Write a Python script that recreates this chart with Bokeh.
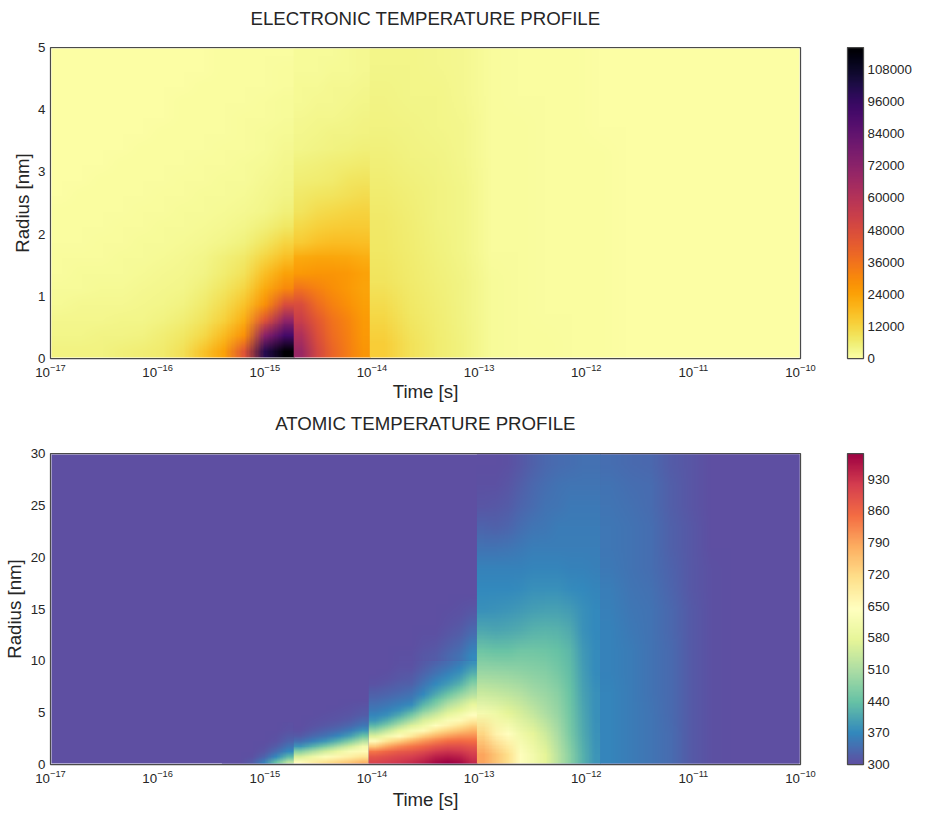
import base64
import struct
import zlib
import numpy as np
from bokeh.embed import file_html
from bokeh.resources import INLINE
from bokeh.plotting import figure
from bokeh.layouts import column
from bokeh.models import LinearColorMapper, ColorBar, FixedTicker, Label, BasicTickFormatter, LogAxis
from bokeh.palettes import Inferno256

# Electron temperature, kK. Rows run up the radius, columns along log10(time).
TE_A = [  # 1e-17 .. 10^-14.73
 [4.5,4.5,4.5,5,5.5,6.5,9.5,16,24,45,100,116],
 [3.5,3.5,3.8,4,4.5,5.5,7.5,11,18,28,72,92],
 [2.8,2.8,3,3.2,3.6,4.4,5.8,8.5,13,21,45,70],
 [2.2,2.3,2.5,2.7,3,3.5,4.5,6.5,10,16,28,48],
 [1.7,1.8,2,2.2,2.5,3,3.6,5,8,12,22,30],
 [1.3,1.4,1.6,1.8,2.1,2.5,3,4,6,9,17,24],
 [1,1.1,1.3,1.5,1.7,2.1,2.5,3.3,5,7,12,17],
 [.8,.9,1,1.2,1.4,1.7,2.1,2.5,3.5,4.8,8,12],
 [.6,.7,.8,1,1.2,1.4,1.7,2.1,2.6,3.3,5,7.5],
 [.5,.6,.7,.8,1,1.2,1.4,1.8,2.2,2.6,3.4,5],
 [.4,.5,.6,.7,.8,1,1.2,1.5,1.8,2.2,2.8,4],
 [.4,.4,.5,.6,.7,.8,1,1.2,1.5,1.8,2.3,3.3],
 [.3,.4,.4,.5,.6,.7,.8,1,1.3,1.5,2,2.8],
 [.3,.3,.4,.4,.5,.6,.7,.9,1.1,1.3,1.7,2.3],
 [.3,.3,.3,.4,.4,.5,.6,.8,.9,1.1,1.4,1.9],
 [.2,.3,.3,.3,.4,.4,.5,.7,.8,1,1.2,1.6],
 [.2,.2,.3,.3,.3,.4,.5,.6,.7,.8,1,1.4],
 [.2,.2,.2,.3,.3,.3,.4,.5,.6,.7,.9,1.2],
 [.2,.2,.2,.2,.3,.3,.4,.4,.5,.6,.8,1],
 [.2,.2,.2,.2,.2,.3,.3,.4,.5,.5,.7,.9],
]
TE_B = [  # 10^-14.73 .. 10^-14.02
 [68,50,40,33,27],
 [62,47,38,32,26],
 [54,44,36,31,25.5],
 [48,38,32,28,24.5],
 [36,32,29,26,23.5],
 [26,27,27,26,24],
 [22,23,23,22.5,21],
 [14.5,16.5,17.5,17.5,17],
 [11,13,14,14.5,14.5],
 [8.5,10,11,12,12.5],
 [7,8,8.5,9.5,10],
 [5.5,6.2,6.8,7.8,8.3],
 [4.6,5,5.5,6,6.6],
 [3.6,4,4.3,4.7,5],
 [3,3.4,3.7,4,4.3],
 [2.6,2.9,3.1,3.4,3.7],
 [2.2,2.5,2.7,2.9,3.2],
 [1.9,2.1,2.3,2.5,2.8],
 [1.6,1.8,2,2.2,2.5],
 [1.4,1.6,1.8,2,2.3],
]
TE_C = [  # 10^-14.02 .. 1e-10
 [14,9,6,4.5,1.6,1.2,1,.7,.5,.4,.4,.3,.3,.3,.2,.2],
 [11,7.5,5.5,4,1.4,1.1,.9,.7,.5,.4,.4,.3,.3,.3,.2,.2],
 [8.5,6.5,5,3.8,1.4,1.1,.9,.6,.5,.4,.4,.3,.3,.3,.2,.2],
 [7.5,6,4.8,3.6,1.3,1,.9,.6,.5,.4,.4,.3,.3,.2,.2,.2],
 [7,5.5,4.5,3.4,1.2,1,.8,.6,.5,.4,.4,.3,.3,.2,.2,.2],
 [6,5,4.2,3.2,1.2,1,.8,.6,.5,.4,.4,.3,.3,.2,.2,.2],
 [5,4.5,4,3,1.1,1,.8,.6,.5,.4,.4,.3,.3,.2,.2,.2],
 [4.5,4,3.6,2.8,1.1,1,.7,.6,.4,.4,.3,.3,.2,.2,.2,.2],
 [4,3.6,3.3,2.6,1,.9,.7,.6,.4,.4,.3,.3,.2,.2,.2,.2],
 [3.6,3.3,3,2.5,1,.9,.7,.6,.4,.4,.3,.3,.2,.2,.2,.2],
]

# Atomic temperature, K.
TA_BASE = [[300]]
TA_P1 = [  # 10^-15.4 .. 10^-14.73, 0..4 nm
 [300,302,318,360,440,530],
 [300,300,305,325,370,430],
 [300,300,302,310,335,370],
 [300,300,300,304,318,345],
 [300,300,300,302,308,325],
 [300,300,300,300,304,314],
 [300,300,300,300,302,307],
 [300,300,300,300,300,303],
]
TA_B = [  # 10^-14.73 .. 10^-14.03, 0..6.5 nm
 [650,680,705,725,745,770],
 [560,600,635,660,680,700],
 [470,510,550,590,625,655],
 [385,420,460,505,550,610],
 [340,360,385,420,465,520],
 [315,330,345,365,395,440],
 [305,315,325,335,355,385],
 [302,307,312,320,330,350],
 [300,303,306,310,318,330],
 [300,301,303,306,310,318],
 [300,300,301,303,306,311],
 [300,300,300,301,303,306],
 [300,300,300,300,301,302],
]
TA_C_COLS = [  # one list per time, 10^-14.03 .. 10^-13.02, 0..10 nm
 [905,885,840,745,650,565,490,425,385,365,352,341,331,322,314,308,304,302,301,300],
 [915,895,860,790,700,610,535,465,415,380,362,349,338,328,319,312,307,304,302,300],
 [925,905,875,820,735,650,585,515,460,410,378,360,346,335,326,319,313,309,306,304],
 [935,915,885,840,775,690,620,565,505,455,410,375,356,343,333,324,317,312,308,305],
 [950,930,900,860,805,735,655,600,560,510,465,425,395,372,357,346,336,328,321,316],
 [975,950,920,880,830,770,700,640,590,545,505,468,438,410,388,372,358,345,335,326],
 [985,960,930,895,850,795,730,670,625,585,550,515,480,445,415,392,376,362,350,340],
 [975,950,925,895,855,810,755,700,655,610,575,545,515,485,450,420,398,382,368,355],
 [940,925,905,880,850,815,775,730,685,645,610,585,550,520,495,470,443,418,398,380],
]
TA_C_UP_COLS = [  # same times, 10..18 nm
 [300,300,300,300,300,300,300,300],
 [300,300,300,300,300,300,300,300],
 [303,301,300,300,300,300,300,300],
 [304,302,301,300,300,300,300,300],
 [312,307,304,302,300,300,300,300],
 [317,309,304,302,301,300,300,300],
 [332,320,311,306,303,301,300,300],
 [345,330,320,312,306,303,301,300],
 [372,356,340,325,314,306,302,300],
]
TA_D_COLS = [  # 10^-13.02 .. 10^-11.87, 0..30 nm
 [790,725,615,540,490,445,405,380,370,362,345,325,310,303,300],
 [750,670,600,535,487,442,402,381,371,362,345,322,312,305,302],
 [710,645,575,528,485,442,405,385,372,362,347,327,317,310,305],
 [640,605,555,515,478,448,412,390,374,364,352,338,328,320,313],
 [610,578,535,500,473,448,420,396,378,367,357,346,336,330,322],
 [575,545,512,488,468,445,422,398,380,366,357,350,343,338,330],
 [525,505,487,472,455,438,420,397,378,365,358,354,348,344,335],
 [472,458,450,440,432,424,410,392,375,364,359,356,351,348,340],
 [420,412,405,400,395,390,383,378,370,363,359,356,352,348,342],
 [385,383,380,378,375,374,372,370,367,361,358,355,351,347,342],
]
TA_E_COLS = [  # 10^-11.87 .. 1e-10, 0..30 nm
 [366,366,365,365,364,364,362,360,357,352,350,349,348,345,340],
 [356,356,356,355,355,354,353,350,347,345,344,343,342,340,333],
 [346,346,346,345,345,345,344,343,342,340,339,338,337,335,330],
 [335,335,334,334,333,333,332,331,328,325,323,322,321,320,318],
 [316,316,316,315,315,315,314,314,313,312,311,311,310,310,309],
 [304,304,304,304,304,304,303,303,303,303,302,302,302,302,302],
 [302,302,302,302,302,302,302,302,302,302,302,302,302,302,302],
 [301,301,301,301,301,301,301,301,301,301,301,301,301,301,301],
 [300,300,300,300,300,300,300,300,300,300,300,300,300,300,300],
 [300,300,300,300,300,300,300,300,300,300,300,300,300,300,300],
]

TIME_TICKS = [1e-17, 1e-16, 1e-15, 1e-14, 1e-13, 1e-12, 1e-11, 1e-10]
TE_BAR_TICKS = [0, 12000, 24000, 36000, 48000, 60000, 72000, 84000, 96000, 108000]
TA_BAR_TICKS = [300, 370, 440, 510, 580, 650, 720, 790, 860, 930]
TE_MAX = 116200
TA_MAX = 987

FONT = "Liberation Sans"
INK = "#262626"
EDGE = "#4a4a4a"

SPECTRAL_STOPS = ['#5e4fa2', '#3288bd', '#66c2a5', '#abdda4', '#e6f598', '#ffffbf',
                  '#fee08b', '#fdae61', '#f46d43', '#d53e4f', '#9e0142']


def spectral_256():
    rgb = np.array([[int(c[i:i + 2], 16) for i in (1, 3, 5)] for c in SPECTRAL_STOPS], float)
    pos = np.linspace(0, 1, len(rgb))
    t = np.linspace(0, 1, 256)
    out = np.stack([np.interp(t, pos, rgb[:, k]) for k in range(3)], axis=1).round().astype(int)
    return ["#%02x%02x%02x" % tuple(v) for v in out]


def cells_to_png_uri(rows, palette, low, high):
    """Colour the typed cells one pixel each; the browser does the upscaling."""
    a = np.asarray(rows, dtype=float)[::-1]
    idx = np.clip(((a - low) / (high - low) * 256).astype(int), 0, 255)
    lut = np.array([[int(c[i:i + 2], 16) for i in (1, 3, 5)] for c in palette], dtype=np.uint8)
    rgb = lut[idx]
    h, w = a.shape
    raw = b"".join(b"\x00" + rgb[y].tobytes() for y in range(h))

    def chunk(tag, data):
        return struct.pack(">I", len(data)) + tag + data + struct.pack(">I", zlib.crc32(tag + data))

    png = (b"\x89PNG\r\n\x1a\n" + chunk(b"IHDR", struct.pack(">IIBBBBB", w, h, 8, 2, 0, 0, 0))
           + chunk(b"IDAT", zlib.compress(raw)) + chunk(b"IEND", b""))
    return "data:image/png;base64," + base64.b64encode(png).decode()


def panel(title, title_standoff, ymax, yticks, mapper, patches, bar_ticks, ylabel_standoff, xlabel_standoff):
    p = figure(x_axis_type="log", x_range=(1e-17, 1e-10), y_range=(0, ymax),
               frame_width=750, frame_height=311, width=944, height=406,
               min_border_left=50, min_border_right=144, min_border_top=47, min_border_bottom=48,
               output_backend="svg", toolbar_location=None)
    p.grid.visible = False
    p.outline_line_color = EDGE
    p.outline_line_width = 1.25
    for (lg0, lg1, r0, r1, rows) in patches:
        x0, x1 = 10.0 ** lg0, 10.0 ** lg1
        uri = cells_to_png_uri(rows, mapper.palette, mapper.low, mapper.high)
        p.image_url(url=[uri], x=x0, y=r0, w=x1 - x0, h=r1 - r0, anchor="bottom_left", dilate=True)
    bottom_axis = p.below[0]
    left_axis = p.left[0]
    bottom_axis.ticker = FixedTicker(ticks=TIME_TICKS)
    left_axis.ticker = FixedTicker(ticks=yticks)
    bottom_axis.axis_label = "Time [s]"
    left_axis.axis_label = "Radius [nm]"
    left_axis.axis_label_standoff = ylabel_standoff
    bottom_axis.axis_label_standoff = xlabel_standoff
    title_axis = LogAxis(axis_label=title, ticker=FixedTicker(ticks=[]), axis_label_standoff=title_standoff)
    p.add_layout(title_axis, "above")
    for ax in (bottom_axis, left_axis, title_axis):
        ax.axis_line_color = None
        ax.major_tick_line_color = None
        ax.minor_tick_line_color = None
        ax.major_tick_out = 0
        ax.minor_tick_out = 0
        ax.major_label_text_font = FONT
        ax.major_label_text_font_size = "13.3px"
        ax.major_label_text_color = INK
        ax.major_label_standoff = 5
        ax.axis_label_text_font = FONT
        ax.axis_label_text_font_size = "18.67px"
        ax.axis_label_text_font_style = "normal"
        ax.axis_label_text_color = INK
    title_axis.major_label_standoff = 0
    cb = ColorBar(color_mapper=mapper, location=(797, 0), width=16, height=311, padding=0, margin=0,
                  ticker=FixedTicker(ticks=bar_ticks), formatter=BasicTickFormatter(use_scientific=False),
                  major_tick_line_color=None, minor_tick_line_color=None,
                  major_label_text_font=FONT, major_label_text_font_size="13.3px", major_label_text_color=INK,
                  label_standoff=4, bar_line_color=EDGE, bar_line_width=1.25, background_fill_alpha=0,
                  border_line_color=None)
    p.add_layout(cb, "center")
    p.add_layout(Label(x=882, y=155, x_units="screen", y_units="screen", text="TEMPERATURE [K]",
                       angle=90, angle_units="deg", text_align="center", text_baseline="middle",
                       text_font=FONT, text_font_size="18.67px", text_color=INK))
    return p


te_mapper = LinearColorMapper(palette=list(Inferno256)[::-1], low=0, high=TE_MAX)
ta_mapper = LinearColorMapper(palette=spectral_256(), low=300, high=TA_MAX)

te_patches = [
    (-17, -14.73, 0, 5, np.array(TE_A) * 1000),
    (-14.73, -14.02, 0, 5, np.array(TE_B) * 1000),
    (-14.02, -10, 0, 5, np.array(TE_C) * 1000),
]
ta_patches = [
    (-17, -10, 0, 30, TA_BASE),
    (-15.4, -14.73, 0, 4, TA_P1),
    (-14.73, -14.03, 0, 6.5, TA_B),
    (-14.03, -13.02, 0, 10, np.array(TA_C_COLS).T),
    (-14.03, -13.02, 10, 18, np.array(TA_C_UP_COLS).T),
    (-13.02, -11.87, 0, 30, np.array(TA_D_COLS).T),
    (-11.87, -10, 0, 30, np.array(TA_E_COLS).T),
]

top = panel("ELECTRONIC TEMPERATURE PROFILE", 19, 5, [0, 1, 2, 3, 4, 5], te_mapper, te_patches,
            TE_BAR_TICKS, 2, 1)
bot = panel("ATOMIC TEMPERATURE PROFILE", 20, 30, [0, 5, 10, 15, 20, 25, 30], ta_mapper, ta_patches,
            TA_BAR_TICKS, 3, 3)

page = column(top, bot, spacing=0)
open("out.html", "w").write(file_html(page, INLINE))
